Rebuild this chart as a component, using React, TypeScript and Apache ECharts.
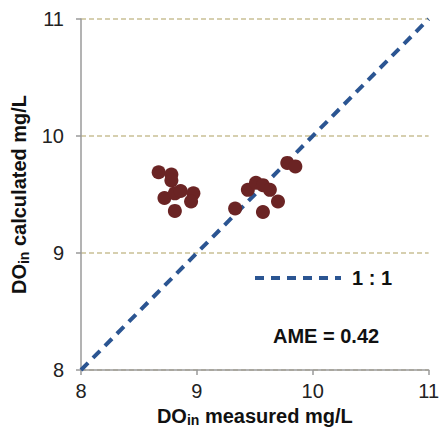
import React, { useEffect, useRef } from "react";
import * as echarts from "echarts";

const measured = [8.67, 8.78, 8.78, 8.72, 8.81, 8.86, 8.97, 8.95, 8.81, 9.33, 9.44, 9.51, 9.57, 9.63, 9.7, 9.57, 9.78, 9.85];
const calculated = [9.69, 9.67, 9.62, 9.47, 9.51, 9.53, 9.51, 9.44, 9.36, 9.38, 9.54, 9.6, 9.58, 9.54, 9.44, 9.35, 9.77, 9.74];
const oneToOne = [8, 11];
const axisTicks = [8, 9, 10, 11];
const fitLabel = "1 : 1";
const ameLabel = "AME = 0.42";

export default function App() {
  const ref = useRef<HTMLDivElement>(null);
  useEffect(() => {
    document.body.style.margin = "0";
    const chart = echarts.init(ref.current!, null, { renderer: "svg" });
    const font = "'Liberation Sans', Arial, sans-serif";
    const nameRich = {
      b: { fontSize: 20, fontWeight: "bold", color: "#111", fontFamily: font },
      s: { fontSize: 14, fontWeight: "bold", color: "#111", fontFamily: font, verticalAlign: "bottom", padding: [9, 0, 0, 0] },
    };
    const axisCommon = {
      type: "value",
      min: axisTicks[0],
      max: axisTicks[axisTicks.length - 1],
      interval: 1,
      nameLocation: "middle",
      axisLine: { show: true, lineStyle: { color: "#9a9a9a", width: 1.5 } },
      axisTick: { show: true, length: 5, lineStyle: { color: "#9a9a9a", width: 1.5 } },
      axisLabel: { color: "#222", fontSize: 20, fontFamily: font },
    };
    chart.setOption({
      animation: false,
      grid: { left: 81, right: 13, top: 19, bottom: 63, containLabel: false },
      xAxis: {
        ...axisCommon,
        name: "{b|DO}{s|in}{b| measured mg/L}",
        nameGap: 26,
        nameTextStyle: { rich: nameRich },
        axisLabel: { ...axisCommon.axisLabel, margin: 11 },
        splitLine: { show: false },
      },
      yAxis: {
        ...axisCommon,
        name: "{b|DO}{s|in}{b| calculated mg/L}",
        nameGap: 46,
        nameTextStyle: { rich: nameRich },
        axisLabel: { ...axisCommon.axisLabel, margin: 17 },
        splitLine: { show: true, lineStyle: { color: "#c9c095", type: [5, 3], width: 1.5 } },
      },
      graphic: [
        {
          type: "line",
          shape: { x1: 255, y1: 278, x2: 341, y2: 278 },
          style: { stroke: "#2b5592", lineWidth: 4, lineDash: [9, 7] },
        },
        {
          type: "text",
          x: 352,
          y: 278,
          style: { text: fitLabel, fontSize: 20, fontWeight: "bold", fill: "#111", fontFamily: font, verticalAlign: "middle" },
        },
        {
          type: "text",
          x: 273,
          y: 336,
          style: { text: ameLabel, fontSize: 20, fontWeight: "bold", fill: "#111", fontFamily: font, verticalAlign: "middle" },
        },
      ],
      series: [
        {
          name: fitLabel,
          type: "line",
          data: oneToOne.map((v) => [v, v]),
          symbol: "none",
          lineStyle: { color: "#2b5592", width: 4, type: [10, 7] },
          itemStyle: { color: "#2b5592" },
          z: 1,
        },
        {
          name: "points",
          type: "scatter",
          data: measured.map((m, i) => [m, calculated[i]]),
          symbolSize: 14,
          itemStyle: { color: "#6b2424", opacity: 1 },
          z: 3,
        },
      ],
    });
    return () => chart.dispose();
  }, []);
  return <div ref={ref} style={{ width: 442, height: 433 }} />;
}
